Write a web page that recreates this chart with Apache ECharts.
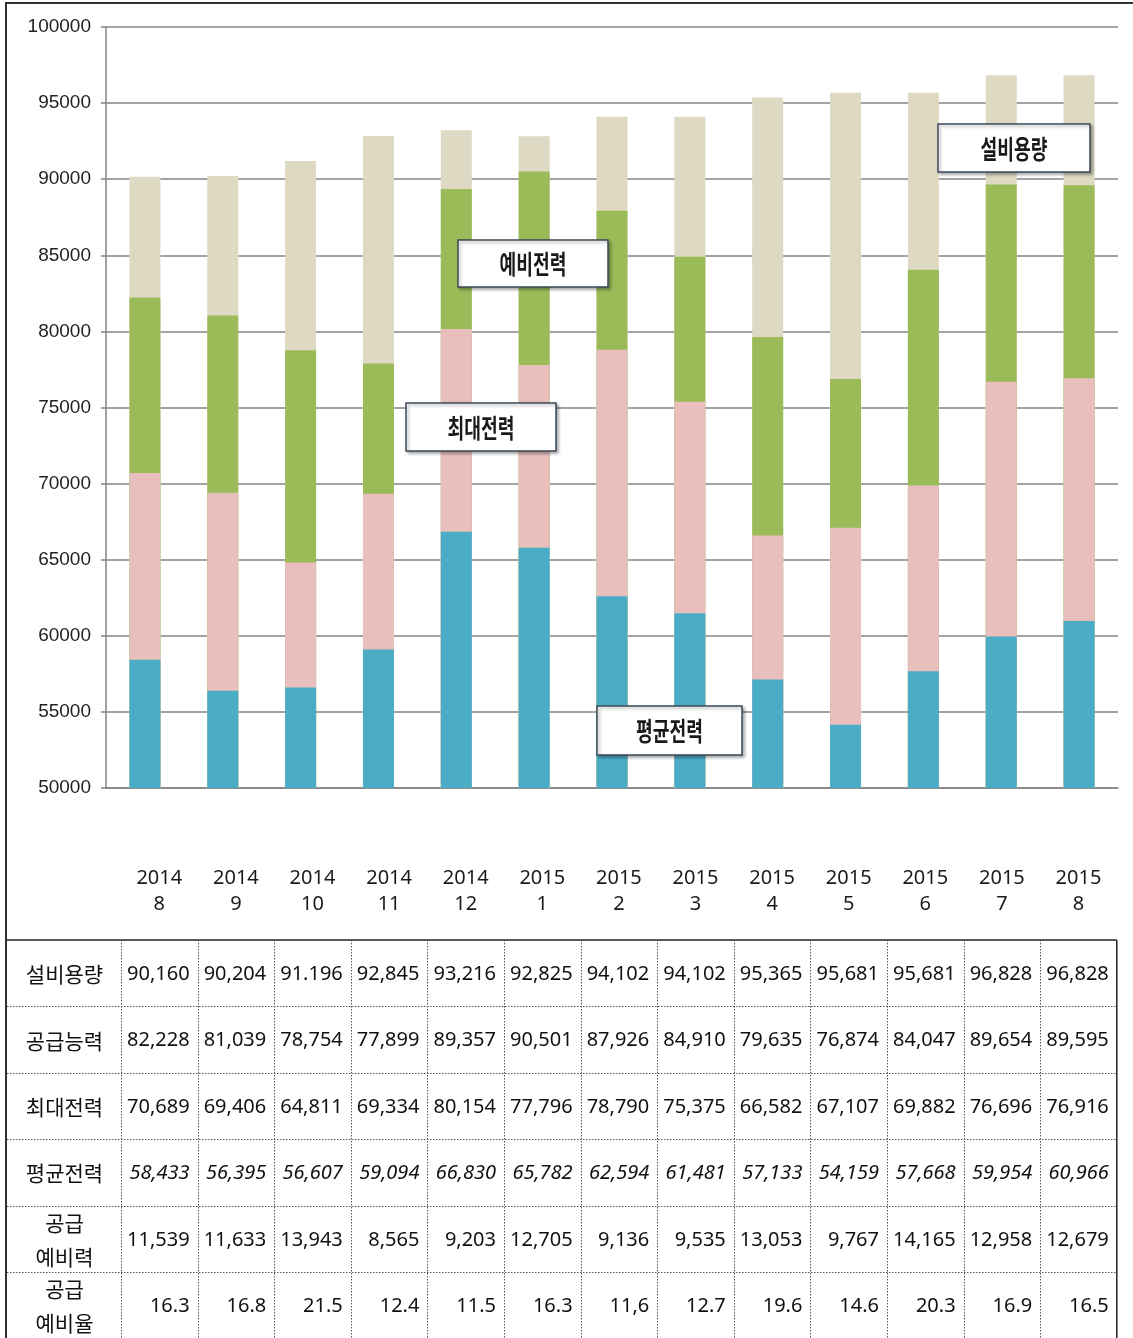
<!DOCTYPE html>
<html>
<head>
<meta charset="utf-8">
<script src="https://cdn.jsdelivr.net/npm/echarts@6/dist/echarts.min.js"></script>
<style>
html,body{margin:0;padding:0;background:#fff;}
#c{width:1133px;height:1338px;}
</style>
</head>
<body>
<div id="c"></div>
<script>
// ---- data (as printed in the source table) ----
const years  = ['2014','2014','2014','2014','2014','2015','2015','2015','2015','2015','2015','2015','2015'];
const months = ['8','9','10','11','12','1','2','3','4','5','6','7','8'];
const rowNames = ['설비용량','공급능력','최대전력','평균전력','공급\n예비력','공급\n예비율'];
const capacityRow = ['90,160','90,204','91.196','92,845','93,216','92,825','94,102','94,102','95,365','95,681','95,681','96,828','96,828'];
const supplyRow   = ['82,228','81,039','78,754','77,899','89,357','90,501','87,926','84,910','79,635','76,874','84,047','89,654','89,595'];
const peakRow     = ['70,689','69,406','64,811','69,334','80,154','77,796','78,790','75,375','66,582','67,107','69,882','76,696','76,916'];
const averageRow  = ['58,433','56,395','56,607','59,094','66,830','65,782','62,594','61,481','57,133','54,159','57,668','59,954','60,966'];
const reserveRow  = ['11,539','11,633','13,943','8,565','9,203','12,705','9,136','9,535','13,053','9,767','14,165','12,958','12,679'];
const rateRow     = ['16.3','16.8','21.5','12.4','11.5','16.3','11,6','12.7','19.6','14.6','20.3','16.9','16.5'];
const yMin = 50000, yMax = 100000, yStep = 5000;

const toNum = s => Number(String(s).replace(/[.,]/g, ''));
const categories = years.map((y, i) => y + '\n' + months[i]);
const capacity = capacityRow.map(toNum);
const supply   = supplyRow.map(toNum);
const peak     = peakRow.map(toNum);
const average  = averageRow.map(toNum);

// ---- styling ----
const C_BEIGE = '#DDD9C3', C_GREEN = '#9BBB59', C_PINK = '#E9BFBE', C_BLUE = '#4BACC6';
const GRID_COLOR = '#858585';

const chart = echarts.init(document.getElementById('c'), null, {renderer: 'canvas'});

// table geometry
const tTop = 940, rowH = 66.4, labL = 6, labR = 121, colW = 76.6;
const tRight = labR + colW * 13;
const tableRows = [capacityRow, supplyRow, peakRow, averageRow, reserveRow, rateRow];

const graphics = [];
// outer frame
graphics.push({type:'line', shape:{x1:5, y1:3, x2:1133, y2:3}, style:{stroke:'#333', lineWidth:2}});
graphics.push({type:'line', shape:{x1:6, y1:3, x2:6, y2:1338}, style:{stroke:'#333', lineWidth:2}});
// table borders
graphics.push({type:'line', shape:{x1:6, y1:tTop, x2:tRight, y2:tTop}, style:{stroke:'#222', lineWidth:1.5}});
graphics.push({type:'line', shape:{x1:tRight, y1:tTop, x2:tRight, y2:1338}, style:{stroke:'#222', lineWidth:1.5}});
for (let r = 1; r < 6; r++) {
  const y = Math.round(tTop + r * rowH) + 0.5;
  graphics.push({type:'line', shape:{x1:7, y1:y, x2:tRight, y2:y}, style:{stroke:'#555', lineWidth:1, lineDash:[1.5,1.5]}});
}
for (let c = 0; c < 13; c++) {
  const x = Math.round(labR + c * colW) + 0.5;
  graphics.push({type:'line', shape:{x1:x, y1:tTop, x2:x, y2:1338}, style:{stroke:'#555', lineWidth:1, lineDash:[1.5,1.5]}});
}
// table texts
rowNames.forEach((name, r) => {
  const cy = tTop + r * rowH + rowH / 2;
  graphics.push({type:'text', x:(labL + labR) / 2 + 1, y:cy + 1, style:{
    x:0, y:0, text:name, align:'center', verticalAlign:'middle',
    font:'21px "Noto Sans CJK KR", sans-serif', fill:'#111', lineHeight:34}});
  tableRows[r].forEach((val, c) => {
    graphics.push({type:'text', x:labR + (c + 1) * colW - 8, y:cy + 1, style:{
      x:0, y:0, text:val, align:'right', verticalAlign:'middle',
      font:(r === 3 ? 'italic ' : '') + '20px "Noto Sans", sans-serif', fill:'#111'}});
  });
});
// annotation boxes
const notes = [
  {text:'예비전력', x:458, y:240, w:150, h:47},
  {text:'최대전력', x:406, y:403, w:150, h:48},
  {text:'평균전력', x:597, y:706, w:145, h:49},
  {text:'설비용량', x:938, y:124, w:152, h:48}
];
notes.forEach(n => {
  graphics.push({type:'rect', z:100, shape:{x:n.x, y:n.y, width:n.w, height:n.h},
    style:{fill:'#fff', stroke:'#3d4957', lineWidth:1.5, shadowBlur:3, shadowOffsetX:2, shadowOffsetY:2, shadowColor:'rgba(0,0,0,0.3)'}});
  graphics.push({type:'text', z:101, x:n.x + n.w / 2, y:n.y + n.h / 2 + 1, scaleX:0.7, style:{
    x:0, y:0, text:n.text, align:'center', verticalAlign:'middle',
    font:'bold 26px "Noto Sans CJK KR", sans-serif', fill:'#1a1a1a'}});
});

const barCommon = {type:'bar', xAxisIndex:0, yAxisIndex:0, barWidth:31, barGap:'-100%', emphasis:{disabled:true}};

chart.setOption({
  animation:false,
  backgroundColor:'#ffffff',
  grid:[
    {left:106, right:15, top:27, bottom:550, containLabel:false},
    {left:labR, width:colW * 13, top:850, height:5, containLabel:false}
  ],
  xAxis:[
    {type:'category', gridIndex:0, data:categories,
     axisLine:{show:true, lineStyle:{color:GRID_COLOR, width:1.5}},
     axisTick:{show:false}, axisLabel:{show:false}, splitLine:{show:false}},
    {type:'category', gridIndex:1, data:categories, position:'bottom',
     axisLine:{show:false}, axisTick:{show:false},
     axisLabel:{show:true, margin:10, color:'#1a1a1a', fontSize:20, lineHeight:26,
       fontFamily:'"Noto Sans", sans-serif'}}
  ],
  yAxis:[
    {type:'value', gridIndex:0, min:yMin, max:yMax, interval:yStep,
     axisLine:{show:true, lineStyle:{color:GRID_COLOR, width:1.5}},
     axisTick:{show:true, length:5, lineStyle:{color:GRID_COLOR, width:1.5}},
     axisLabel:{color:'#222', fontSize:19, margin:15, formatter:v => String(v),
       fontFamily:'"Liberation Sans", Arial, sans-serif'},
     splitLine:{show:true, lineStyle:{color:GRID_COLOR, width:1.5}}},
    {type:'value', gridIndex:1, show:false}
  ],
  series:[
    Object.assign({name:'설비용량', data:capacity, itemStyle:{color:C_BEIGE}, z:2}, barCommon),
    Object.assign({name:'공급능력', data:supply,   itemStyle:{color:C_GREEN}, z:3}, barCommon),
    Object.assign({name:'최대전력', data:peak,     itemStyle:{color:C_PINK},  z:4}, barCommon),
    Object.assign({name:'평균전력', data:average,  itemStyle:{color:C_BLUE},  z:5}, barCommon)
  ],
  graphic:{elements:graphics}
});
</script>
</body>
</html>
